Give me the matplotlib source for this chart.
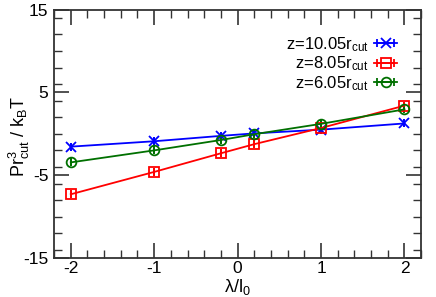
import numpy as np
import matplotlib
matplotlib.use('Agg')
import matplotlib.pyplot as plt
from matplotlib.ticker import MultipleLocator

plt.rcParams['font.family'] = ['Liberation Sans', 'DejaVu Sans']
plt.rcParams['mathtext.fontset'] = 'custom'
plt.rcParams['mathtext.rm'] = 'Liberation Sans'
plt.rcParams['mathtext.it'] = 'Liberation Sans:italic'
plt.rcParams['mathtext.default'] = 'rm'
plt.rcParams['axes.unicode_minus'] = False

lam = [-2, -1, -0.2, 0.2, 1, 2]
p_10 = [-1.55, -0.9, -0.25, 0.05, 0.5, 1.25]
p_8 = [-7.3, -4.6, -2.35, -1.25, 0.7, 3.4]
p_6 = [-3.45, -2.0, -0.75, -0.05, 1.2, 2.95]

series = [
    (p_10, r'z=10.05r$_\mathrm{cut}$', '#0000ff', 'x'),
    (p_8, r'z=8.05r$_\mathrm{cut}$', '#ff0000', 's'),
    (p_6, r'z=6.05r$_\mathrm{cut}$', '#007000', 'o'),
]

fig = plt.figure(figsize=(4.36, 2.97), dpi=100)
ax = fig.add_axes([0.124, 0.131, 0.842, 0.837])

for y, lab, c, m in series:
    ax.errorbar(lam, y, xerr=np.zeros(len(lam)), color=c, marker=m, ms=7,
                mfc='none', mec=c, mew=1.3, lw=1.3, capsize=3, elinewidth=1.3,
                capthick=1.3, label=lab)

ax.set_xlim(-2.2, 2.2)
ax.set_ylim(-15, 15)
ax.xaxis.set_major_locator(MultipleLocator(1))
ax.xaxis.set_minor_locator(MultipleLocator(0.2))
ax.yaxis.set_minor_locator(MultipleLocator(2))
ax.set_yticks([-15, -5, 5, 15])
ax.tick_params(which='both', direction='in', top=True, right=True,
               labelsize=12.5, color='#333333')
ax.tick_params(which='major', length=10.5, width=1.2)
ax.tick_params(which='minor', length=5.5, width=1.0)
ax.tick_params(axis='x', pad=2)
ax.tick_params(axis='y', pad=4)
for s in ax.spines.values():
    s.set_color('#333333')
    s.set_linewidth(1.3)

ax.set_xlabel(r'$\lambda$/l$_0$', fontsize=13)
ax.set_ylabel(r'Pr$^3_\mathrm{cut}$ / k$_\mathrm{B}$T', fontsize=13)
ax.xaxis.set_label_coords(0.5, -0.118)
ax.yaxis.set_label_coords(-0.093, 0.489)
ax.xaxis.label.set_va('center')
ax.yaxis.label.set_va('center')

ax.legend(loc='upper right', bbox_to_anchor=(0.953, 0.924), borderaxespad=0,
          frameon=False, fontsize=12, markerfirst=False, handlelength=1.4,
          handletextpad=0.3, labelspacing=0.05)

fig.savefig('out.png', dpi=100)
